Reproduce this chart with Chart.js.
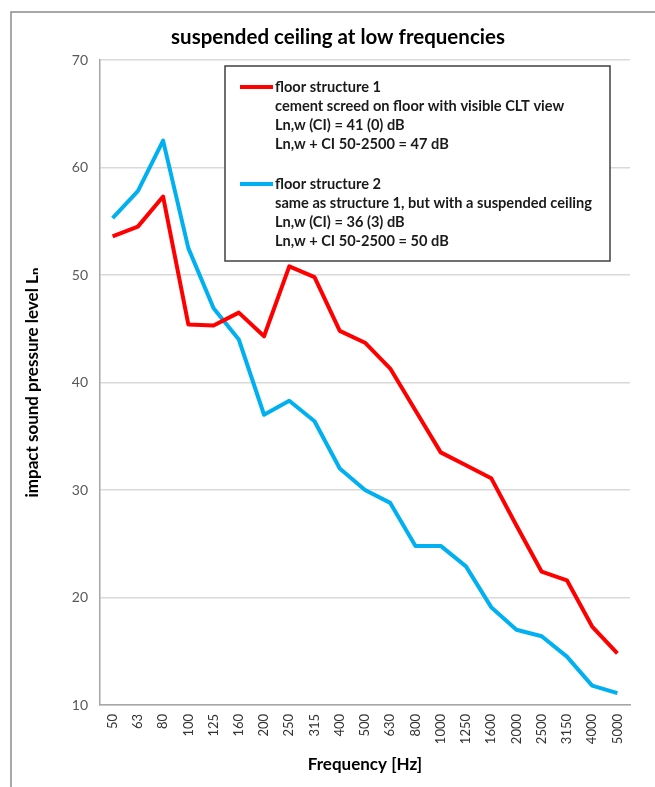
<!DOCTYPE html>
<html>
<head>
<meta charset="utf-8">
<title>suspended ceiling at low frequencies</title>
<script src="https://cdn.jsdelivr.net/npm/chart.js@4"></script>
<style>
  body { margin: 0; background: #fff; }
  canvas { display: block; }
</style>
</head>
<body>
<canvas id="chart" width="655" height="787"></canvas>
<script>
// third-octave bands
var frequencies = ["50", "63", "80", "100", "125", "160", "200", "250", "315", "400", "500",
  "630", "800", "1000", "1250", "1600", "2000", "2500", "3150", "4000", "5000"];

// floor structure 1 (red)
var structure1 = [53.6, 54.5, 57.3, 45.4, 45.3, 46.5, 44.3, 50.8, 49.8, 44.8, 43.7,
  41.3, 37.4, 33.5, 32.3, 31.1, 26.7, 22.4, 21.6, 17.3, 14.8];

// floor structure 2 (blue)
var structure2 = [55.3, 57.8, 62.5, 52.5, 46.9, 44.0, 37.0, 38.3, 36.4, 32.0, 30.0,
  28.8, 24.8, 24.8, 22.9, 19.1, 17.0, 16.4, 14.5, 11.8, 11.1];

var notes1 = ["cement screed on floor with visible CLT view", "Ln,w (CI) = 41 (0) dB", "Ln,w + CI 50-2500 = 47 dB"];
var notes2 = ["same as structure 1, but with a suspended ceiling", "Ln,w (CI) = 36 (3) dB", "Ln,w + CI 50-2500 = 50 dB"];

var yTicks = [10, 20, 30, 40, 50, 60, 70];

var FONT = "Lato, 'DejaVu Sans', sans-serif";

// frame, title and the boxed legend are drawn by hand
var decorations = {
  id: "decorations",
  beforeDraw: function (chart) {
    var ctx = chart.ctx;
    ctx.save();
    ctx.strokeStyle = "#8c8c8c";
    ctx.lineWidth = 1.5;
    ctx.beginPath();
    ctx.moveTo(11, chart.height);
    ctx.lineTo(11, 12);
    ctx.lineTo(chart.width, 12);
    ctx.stroke();

    ctx.fillStyle = "#000";
    ctx.font = "bold 20.5px " + FONT;
    ctx.textAlign = "center";
    ctx.textBaseline = "middle";
    ctx.fillText("suspended ceiling at low frequencies", 338, 37);
    ctx.restore();
  },
  afterDraw: function (chart) {
    var ctx = chart.ctx;
    var area = chart.chartArea;
    var x = area.left + 125;
    var y = area.top + 6;
    ctx.save();
    ctx.fillStyle = "#fff";
    ctx.fillRect(x, y, 385, 195);
    ctx.strokeStyle = "#404040";
    ctx.lineWidth = 1.5;
    ctx.strokeRect(x, y, 385, 195);

    ctx.font = "bold 14.6px " + FONT;
    ctx.textAlign = "left";
    ctx.textBaseline = "middle";
    var groups = [notes1, notes2];
    chart.data.datasets.forEach(function (ds, i) {
      var top = y + 21 + i * 97;
      ctx.strokeStyle = ds.borderColor;
      ctx.lineWidth = 4;
      ctx.beginPath();
      ctx.moveTo(x + 15, top);
      ctx.lineTo(x + 48, top);
      ctx.stroke();
      ctx.fillStyle = "#1a1a1a";
      ctx.fillText(ds.label, x + 50, top);
      groups[i].forEach(function (line, j) {
        ctx.fillText(line, x + 50, top + 19 * (j + 1));
      });
    });
    ctx.restore();
  }
};

var chart = new Chart(document.getElementById("chart"), {
  type: "line",
  data: {
    labels: frequencies,
    datasets: [
      {
        label: "floor structure 1",
        data: structure1,
        borderColor: "#ff0000",
        borderWidth: 4,
        pointRadius: 0,
        borderJoinStyle: "round",
        tension: 0,
      },
      {
        label: "floor structure 2",
        data: structure2,
        borderColor: "#00b0f0",
        borderWidth: 4,
        pointRadius: 0,
        borderJoinStyle: "round",
        tension: 0,
      },
    ],
  },
  options: {
    responsive: false,
    animation: false,
    layout: { padding: { top: 60, left: 0, right: 25, bottom: 0 } },
    plugins: {
      legend: { display: false },
      title: { display: false },
      tooltip: { enabled: false },
    },
    scales: {
      x: {
        offset: true,
        grid: { display: false, drawTicks: false },
        border: { display: true, color: "#a6a6a6", width: 1.5 },
        ticks: {
          autoSkip: false,
          minRotation: 90,
          maxRotation: 90,
          padding: 9,
          color: "#333",
          font: { family: FONT, size: 13 },
        },
        title: {
          display: true,
          text: "Frequency [Hz]",
          color: "#000",
          font: { family: FONT, size: 17, weight: "bold" },
          padding: { top: 0, bottom: 12 },
        },
        afterFit: function (scale) {
          scale.height = 82;
        },
      },
      y: {
        min: yTicks[0],
        max: yTicks[yTicks.length - 1],
        afterBuildTicks: function (scale) {
          scale.ticks = yTicks.map(function (v) { return { value: v }; });
        },
        grid: { color: "#d9d9d9", lineWidth: 1.5, drawTicks: false },
        border: { display: true, color: "#a6a6a6", width: 1.5 },
        ticks: {
          padding: 12,
          color: "#595959",
          font: { family: FONT, size: 14 },
        },
        title: {
          display: true,
          text: "impact sound pressure level Lₙ",
          color: "#000",
          font: { family: FONT, size: 17, weight: "bold" },
          padding: { top: 22, bottom: 0 },
        },
        afterFit: function (scale) {
          scale.width = 100;
        },
      },
    },
  },
  plugins: [decorations],
});
</script>
</body>
</html>
